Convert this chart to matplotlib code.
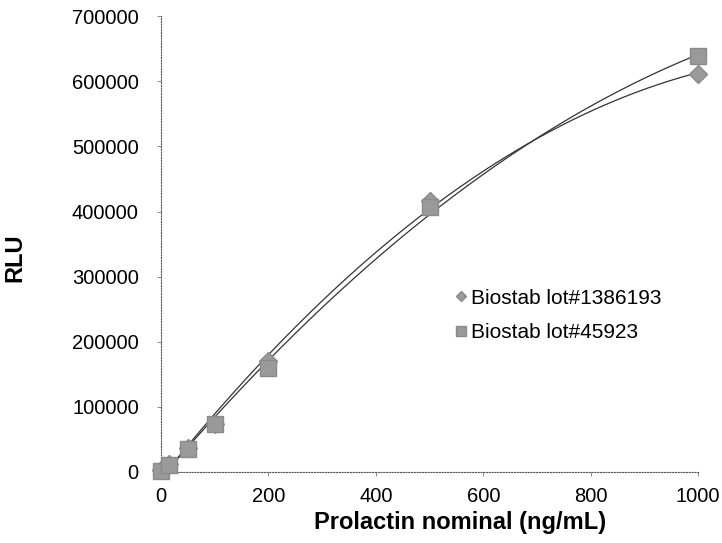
import numpy as np
import matplotlib
matplotlib.use("Agg")
import matplotlib.pyplot as plt

plt.rcParams['font.family'] = ['Liberation Sans', 'DejaVu Sans']

x_vals = [0, 15, 50, 100, 200, 500, 1000]
lot_1386193 = [3000, 12000, 36000, 74000, 170000, 416000, 611000]
lot_45923 = [2000, 10000, 35000, 73000, 160000, 407000, 639000]
labels = ['Biostab lot#1386193', 'Biostab lot#45923']

fig = plt.figure(figsize=(7.22, 5.43), dpi=100)
ax = fig.add_axes([0.223, 0.131, 0.744, 0.839])

xs = np.linspace(0, 1000, 300)
for y, m, lab, sz in [(lot_1386193, 'D', labels[0], 9), (lot_45923, 's', labels[1], 12)]:
    ax.plot(x_vals, y, linestyle='none', marker=m, markersize=sz, color='#9a9a9a',
            markeredgecolor='#8a8a8a', label=lab, clip_on=False, zorder=3)
    c = np.polyfit(x_vals, y, 2)
    ax.plot(xs, np.polyval(c, xs), color='#333333', lw=0.9, zorder=2)

ax.set_xlim(0, 1000)
ax.set_ylim(0, 700000)
ax.set_xticks([0, 200, 400, 600, 800, 1000])
ax.set_yticks(np.arange(0, 700001, 100000))
ax.tick_params(axis='y', labelsize=14.5, length=3, width=0.6, color='#777777', pad=13)
ax.tick_params(axis='x', labelsize=14.5, length=3, width=0.6, color='#777777', pad=8)
for s in ['top', 'right']:
    ax.spines[s].set_visible(False)
for s in ['left', 'bottom']:
    ax.spines[s].set_linestyle((0, (1, 1.5)))
    ax.spines[s].set_color('#555555')
    ax.spines[s].set_linewidth(0.8)

ax.set_xlabel('Prolactin nominal (ng/mL)', fontsize=17, fontweight='bold')
ax.xaxis.set_label_coords(0.557, -0.085)
ax.set_ylabel('RLU', fontsize=17, fontweight='bold')
ax.yaxis.set_label_coords(-0.25, 0.47)

leg = ax.legend(loc='upper left', bbox_to_anchor=(0.53, 0.425), frameon=False,
                fontsize=15, markerscale=0.6, handlelength=0.5, handletextpad=0.2,
                labelspacing=0.75, borderpad=0)

fig.savefig('out.png', dpi=100)
